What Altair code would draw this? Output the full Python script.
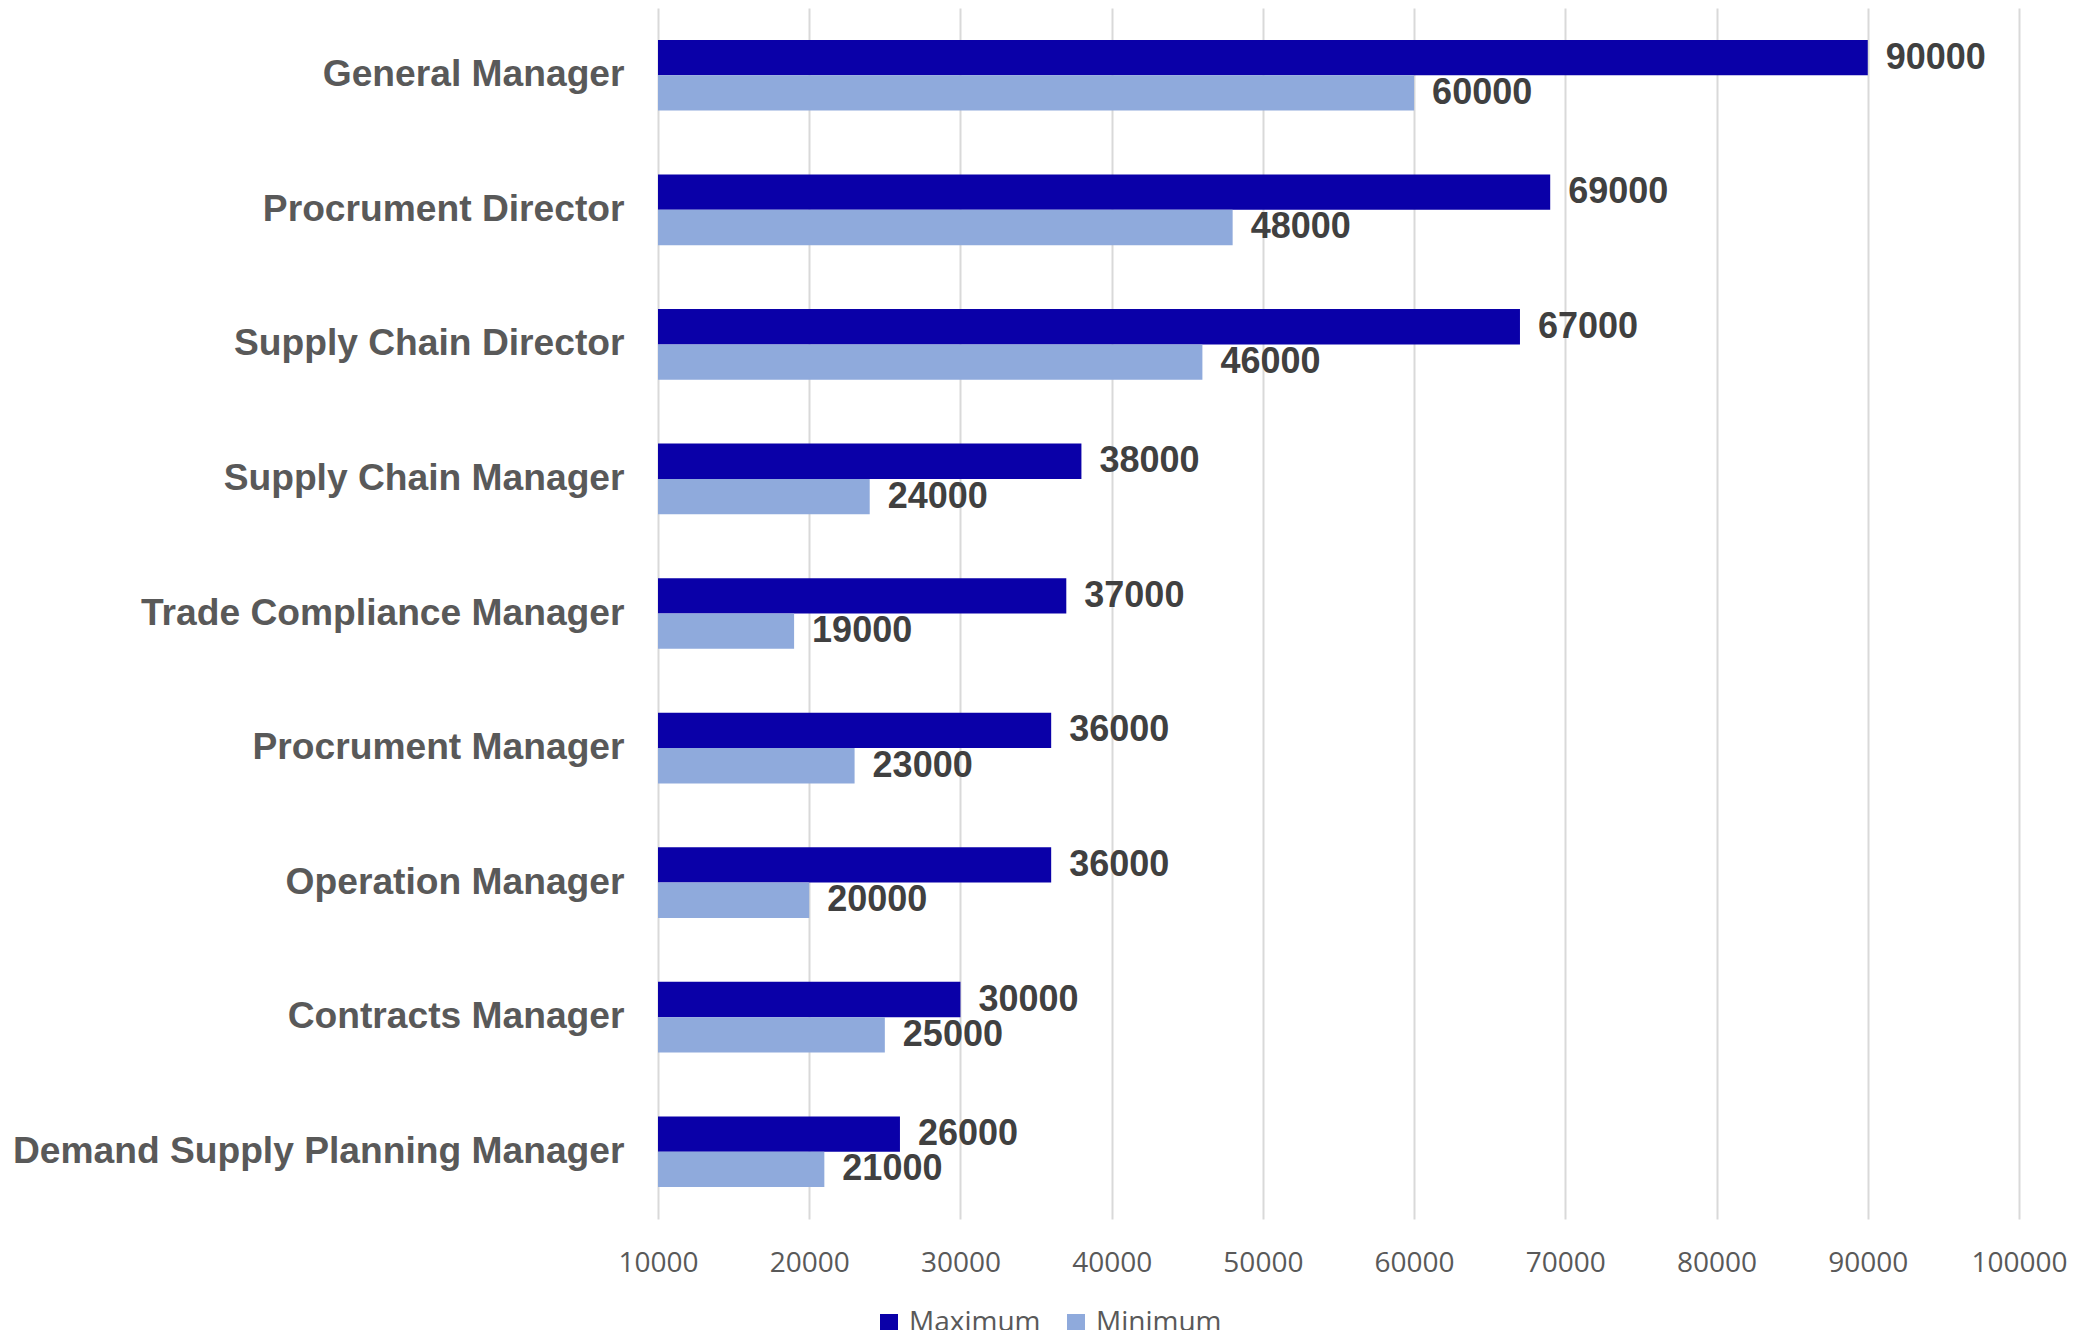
import altair as alt
import pandas as pd

roles = [
    "General Manager",
    "Procrument Director",
    "Supply Chain Director",
    "Supply Chain Manager",
    "Trade Compliance Manager",
    "Procrument Manager",
    "Operation Manager",
    "Contracts Manager",
    "Demand Supply Planning Manager",
]
maximum = [90000, 69000, 67000, 38000, 37000, 36000, 36000, 30000, 26000]
minimum = [60000, 48000, 46000, 24000, 19000, 23000, 20000, 25000, 21000]
series = ["Maximum", "Minimum"]
x_ticks = [10000, 20000, 30000, 40000, 50000, 60000, 70000, 80000, 90000, 100000]
colors = ["#0A00A8", "#8FAADC"]

rows = []
for r, mx, mn in zip(roles, maximum, minimum):
    rows.append({"role": r, "series": "Maximum", "value": mx})
    rows.append({"role": r, "series": "Minimum", "value": mn})
df = pd.DataFrame(rows)

y_enc = alt.Y(
    "role:N",
    sort=roles,
    scale=alt.Scale(paddingInner=0.475, paddingOuter=0.2375),
    axis=alt.Axis(
        title=None,
        ticks=False,
        domain=False,
        grid=False,
        labelFont="Liberation Sans",
        labelFontWeight="bold",
        labelFontSize=37.2,
        labelColor="#595959",
        labelPadding=34,
        labelLimit=1000,
    ),
)
yoff_enc = alt.YOffset("series:N", sort=series, scale=alt.Scale(paddingInner=0, paddingOuter=0))

base = alt.Chart(df).transform_calculate(base="10000")

bars = base.mark_bar().encode(
    y=y_enc,
    yOffset=yoff_enc,
    x=alt.X(
        "value:Q",
        scale=alt.Scale(domain=[10000, 100000], zero=False, nice=False),
        axis=alt.Axis(
            title=None,
            values=x_ticks,
            format="d",
            ticks=False,
            domain=False,
            grid=True,
            gridColor="#D9D9D9",
            gridWidth=2,
            labelFont="Open Sans",
            labelFontSize=28,
            labelColor="#595959",
            labelPadding=30,
            labelFlush=False,
        ),
    ),
    x2="base:Q",
    color=alt.Color(
        "series:N",
        sort=series,
        scale=alt.Scale(domain=series, range=colors),
        legend=alt.Legend(
            title=None,
            orient="none",
            legendX=217,
            legendY=1301,
            direction="horizontal",
            symbolType="square",
            symbolSize=324,
            symbolStrokeWidth=0,
            labelFont="Open Sans",
            labelFontSize=28,
            labelColor="#595959",
            labelOffset=6,
            columnPadding=21,
            padding=0,
        ),
    ),
)

labels = base.mark_text(
    align="left",
    baseline="middle",
    dx=18,
    font="Liberation Sans",
    fontWeight="bold",
    fontSize=36,
    color="#404040",
).encode(
    y=y_enc,
    yOffset=yoff_enc,
    x=alt.X("value:Q"),
    text=alt.Text("value:Q", format="d"),
)

chart = (
    alt.layer(bars, labels)
    .properties(
        width=1361,
        height=1211,
        background="white",
        autosize=alt.AutoSizeParams(type="none"),
        padding={"left": 650, "top": 0, "right": 64, "bottom": 111},
    )
    .configure_view(strokeWidth=0, stroke="transparent")
    .configure_axis(domain=False, ticks=False)
)

chart.save("out.html", embed_options={"renderer": "svg", "actions": False})
